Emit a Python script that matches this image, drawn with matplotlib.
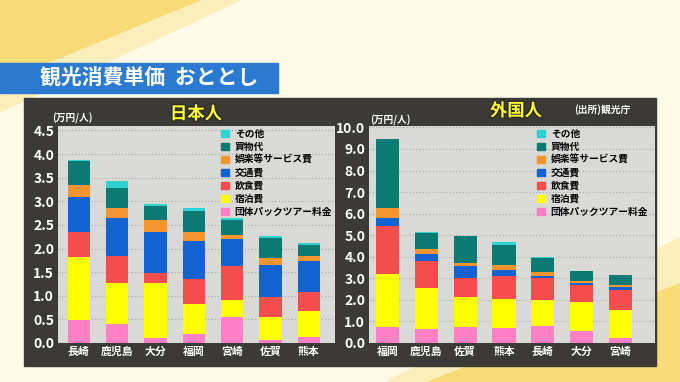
import matplotlib
matplotlib.use("Agg")
import matplotlib.pyplot as plt
from matplotlib.patches import Patch, Polygon, Rectangle
import matplotlib.patheffects as pe

plt.rcParams['font.family'] = ['Noto Sans CJK JP', 'DejaVu Sans']

# ---- data (万円/人), stacked bottom -> top ----
series = ["団体パックツアー料金", "宿泊費", "飲食費", "交通費", "娯楽等サービス費", "買物代", "その他"]
colors = ["#ff80c4", "#ffff00", "#f64c4c", "#1262d2", "#f6952e", "#0b7a72", "#2ed2d2"]

jp_cities = ["長崎", "鹿児島", "大分", "福岡", "宮崎", "佐賀", "熊本"]
jp_pack  = [0.49, 0.40, 0.11, 0.20, 0.56, 0.07, 0.12]
jp_stay  = [1.34, 0.88, 1.16, 0.63, 0.35, 0.49, 0.55]
jp_food  = [0.53, 0.56, 0.22, 0.53, 0.72, 0.42, 0.41]
jp_trans = [0.74, 0.80, 0.87, 0.79, 0.57, 0.68, 0.65]
jp_fun   = [0.24, 0.21, 0.24, 0.19, 0.08, 0.14, 0.11]
jp_shop  = [0.52, 0.44, 0.30, 0.46, 0.32, 0.42, 0.24]
jp_other = [0.01, 0.14, 0.04, 0.06, 0.04, 0.04, 0.04]

fr_cities = ["福岡", "鹿児島", "佐賀", "熊本", "長崎", "大分", "宮崎"]
fr_pack  = [0.76, 0.65, 0.76, 0.70, 0.80, 0.54, 0.23]
fr_stay  = [2.44, 1.90, 1.36, 1.34, 1.21, 1.38, 1.30]
fr_food  = [2.21, 1.27, 0.88, 1.08, 0.99, 0.78, 0.91]
fr_trans = [0.37, 0.32, 0.55, 0.28, 0.12, 0.10, 0.14]
fr_fun   = [0.46, 0.20, 0.14, 0.22, 0.19, 0.07, 0.11]
fr_shop  = [3.22, 0.76, 1.26, 0.94, 0.65, 0.47, 0.46]
fr_other = [0.01, 0.03, 0.01, 0.11, 0.01, 0.01, 0.01]

jp_ticks = [0.0, 0.5, 1.0, 1.5, 2.0, 2.5, 3.0, 3.5, 4.0, 4.5]
fr_ticks = [0.0, 1.0, 2.0, 3.0, 4.0, 5.0, 6.0, 7.0, 8.0, 9.0, 10.0]

W, H = 680, 382
BG = "#fdfbe6"
PANEL = "#3b3a36"
PLOT_BG = "#d9d9d6"


def fx(x):
    return x / W


def fy(y):
    return 1 - y / H


fig = plt.figure(figsize=(6.8, 3.82), dpi=100, facecolor=BG)

# background stripes
fig.patches.append(Polygon([(fx(200), fy(0)), (fx(240), fy(0)), (fx(0), fy(112)), (fx(0), fy(82))],
                           closed=True, transform=fig.transFigure, color="#fbeebb", zorder=0))
fig.patches.append(Polygon([(fx(0), fy(0)), (fx(200), fy(0)), (fx(0), fy(82))],
                           closed=True, transform=fig.transFigure, color="#f8dc78", zorder=0))
fig.patches.append(Polygon([(fx(385), fy(382)), (fx(426), fy(382)), (fx(680), fy(283)), (fx(680), fy(238))],
                           closed=True, transform=fig.transFigure, color="#fbeebb", zorder=0))
fig.patches.append(Polygon([(fx(426), fy(382)), (fx(680), fy(382)), (fx(680), fy(283))],
                           closed=True, transform=fig.transFigure, color="#f8dc78", zorder=0))

# title banner
fig.patches.append(Rectangle((0, fy(93)), fx(278), fy(63) - fy(93), transform=fig.transFigure,
                             color="#2a7ad2", zorder=1))
fig.text(fx(40), fy(78), "観光消費単価  おととし", color="white", fontsize=15, fontweight="bold",
         va="center", ha="left", zorder=2)

# dark panel
fig.patches.append(Rectangle((fx(24), fy(366)), fx(656) - fx(24), fy(97.5) - fy(366),
                             transform=fig.transFigure, color=PANEL, zorder=1))


def draw(rect, cities, data, ticks, ylim, xlim, width, leg_x):
    ax = fig.add_axes(rect)
    ax.set_facecolor(PLOT_BG)
    ax.set_zorder(3)
    bottom = [0.0] * len(cities)
    handles = []
    for vals, name, col in zip(data, series, colors):
        ax.bar(range(len(cities)), vals, width, bottom=bottom, color=col, zorder=3)
        bottom = [b + v for b, v in zip(bottom, vals)]
        handles.append(Patch(color=col, label=name))
    ax.set_ylim(*ylim)
    ax.set_xlim(*xlim)
    ax.set_yticks(ticks)
    ax.set_yticklabels([f"{t:.1f}" for t in ticks])
    ax.set_xticks(range(len(cities)))
    ax.set_xticklabels(cities)
    ax.grid(axis="y", color="#a9a9a9", linestyle=(0, (1, 2)), linewidth=0.8, zorder=1)
    ax.set_axisbelow(True)
    for s in ax.spines.values():
        s.set_visible(False)
    ax.tick_params(length=0, colors="white", labelsize=10, pad=3)
    for lab in ax.get_yticklabels():
        lab.set_fontweight("bold")
    for lab in ax.get_xticklabels():
        lab.set_fontweight("bold")
        lab.set_fontsize(7.8)
    leg = ax.legend(handles[::-1], series[::-1], loc="upper left", bbox_to_anchor=(leg_x, 1.02),
                    frameon=False, handlelength=0.8, handleheight=0.8, handletextpad=0.6,
                    labelspacing=0.3, borderpad=0.3, prop={"size": 7, "weight": "bold"})
    leg.set_zorder(5)
    return ax


draw([fx(58.3), fy(343), fx(335) - fx(58.3), fy(125.7) - fy(343)],
     jp_cities, [jp_pack, jp_stay, jp_food, jp_trans, jp_fun, jp_shop, jp_other],
     jp_ticks, (0, 4.6), (-0.535, 6.68), 0.58, 0.56)
draw([fx(369.3), fy(343), fx(655) - fx(369.3), fy(125.7) - fy(343)],
     fr_cities, [fr_pack, fr_stay, fr_food, fr_trans, fr_fun, fr_shop, fr_other],
     fr_ticks, (0, 10.08), (-0.47, 6.89), 0.6, 0.56)

outline = [pe.withStroke(linewidth=2, foreground="#2a2a20")]
fig.text(fx(196), fy(114), "日本人", color="#ffff30", fontsize=12.5, fontweight="bold",
         ha="center", va="center", path_effects=outline, zorder=6)
fig.text(fx(516), fy(111), "外国人", color="#ffff30", fontsize=12.5, fontweight="bold",
         ha="center", va="center", path_effects=outline, zorder=6)
fig.text(fx(602), fy(110), "(出所)観光庁", color="white", fontsize=7, fontweight="bold",
         ha="center", va="center", zorder=6)
fig.text(fx(72), fy(118.5), "(万円/人)", color="white", fontsize=7, fontweight="bold",
         ha="center", va="center", zorder=6)
fig.text(fx(390), fy(120), "(万円/人)", color="white", fontsize=7, fontweight="bold",
         ha="center", va="center", zorder=6)

fig.savefig("out.png", dpi=100, facecolor=BG)
